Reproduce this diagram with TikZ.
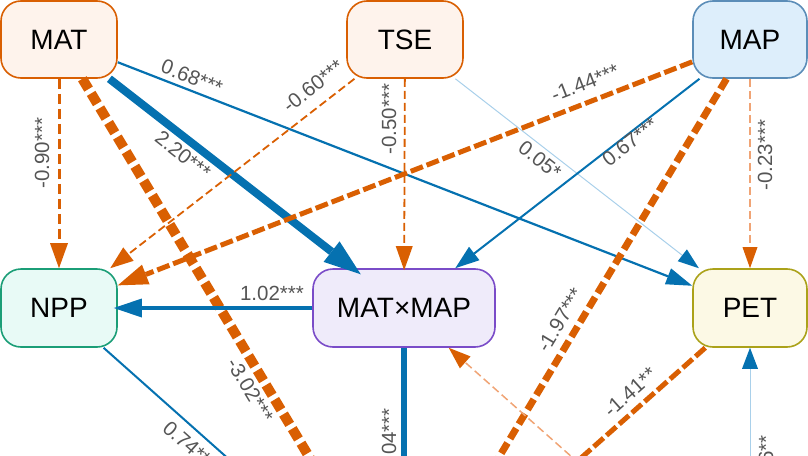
\documentclass[tikz,border=0pt]{standalone}
\usepackage{fontspec}
\setmainfont{Liberation Sans}
\usetikzlibrary{arrows.meta}
\definecolor{dorange}{HTML}{D95F02}
\definecolor{lorange}{HTML}{F0A475}
\definecolor{dblue}{HTML}{0571B0}
\definecolor{lblue}{HTML}{A9D0EA}
\definecolor{lbltext}{HTML}{555555}
\definecolor{matfill}{HTML}{FEF3EC}
\definecolor{mapfill}{HTML}{DDEEFB}
\definecolor{mapborder}{HTML}{5B8DB8}
\definecolor{nppfill}{HTML}{E8FAF6}
\definecolor{nppborder}{HTML}{1B9E77}
\definecolor{mmfill}{HTML}{EFEBFA}
\definecolor{mmborder}{HTML}{7A4CC8}
\definecolor{petfill}{HTML}{FCF9E5}
\definecolor{petborder}{HTML}{ABA21A}
\begin{document}
\begin{tikzpicture}[x=1pt,y=-1pt,
  box/.style={draw, line width=1.6pt, rounded corners=20pt, minimum height=77pt, inner sep=0pt, font=\fontsize{28}{30}\selectfont, text=black},
  lbl/.style={font=\fontsize{20.5}{22}\selectfont, text=lbltext, inner sep=0pt},
  dsh/.style={dash pattern=on 8pt off 4pt},
  dshm/.style={dash pattern=on 10pt off 5pt},
  dshk/.style={dash pattern=on 12pt off 5pt},
  tip/.style 2 args={-{Triangle[length=#1,width=#2,line width=0pt]}},
]
\useasboundingbox (0,0) rectangle (808,455);
\clip (0,0) rectangle (808,455);
% nodes
\node[box, fill=matfill, draw=dorange, minimum width=116pt] (MAT) at (59,39.5) {MAT};
\node[box, fill=matfill, draw=dorange, minimum width=116pt] (TSE) at (405,39.5) {TSE};
\node[box, fill=mapfill, draw=mapborder, minimum width=114pt] (MAP) at (750,39.5) {MAP};
\node[box, fill=nppfill, draw=nppborder, minimum width=116pt, minimum height=78pt] (NPP) at (59,308) {NPP};
\node[box, fill=mmfill, draw=mmborder, minimum width=182pt, minimum height=78pt] (MM) at (404,308) {MAT×MAP};
\node[box, fill=petfill, draw=petborder, minimum width=114pt, minimum height=78pt] (PET) at (750,308) {PET};
\coordinate (BC) at (404,615);
\coordinate (BR) at (750,615);
% edges
\draw[dorange, line width=3pt, dshm, tip={25pt}{18pt}] (MAT) -- (NPP);
\draw[dblue, line width=8pt, tip={37pt}{26pt}, shorten >=-10pt] (MAT) -- (MM);
\draw[dblue, line width=2.2pt, tip={26pt}{17pt}] (MAT) -- (PET);
\draw[dorange, line width=10pt, dshk] (MAT) -- (BC);
\draw[dorange, line width=1.8pt, dsh, tip={23pt}{17pt}] (TSE) -- (NPP);
\draw[dorange, line width=1.8pt, dsh, tip={24pt}{17pt}, shorten >=-2pt] (TSE) -- (MM);
\draw[lblue, line width=1pt, -{Triangle[length=21pt,width=15pt,line width=0pt,color=dblue]}] (TSE) -- (PET);
\draw[dorange, line width=5pt, dash pattern=on 13pt off 4pt, tip={30pt}{21pt}] (MAP) -- (NPP);
\draw[dblue, line width=2pt, tip={24pt}{17pt}] (MAP) -- (MM);
\draw[dorange, line width=7pt, dshk] (MAP) -- (BC);
\draw[lorange, line width=1.5pt, dsh, -{Triangle[length=21pt,width=15pt,line width=0pt,color=dorange]}] (MAP) -- (PET);
\draw[dblue, line width=4pt, tip={28pt}{19pt}, shorten >=-4pt] (MM) -- (NPP);
\draw[dblue, line width=6pt] (MM) -- (BC);
\draw[dblue, line width=2pt] (NPP) -- (BC);
\draw[dorange, line width=5pt, dash pattern=on 13pt off 4pt] (PET) -- (BC);
\draw[lorange, line width=1.5pt, dsh, -{Triangle[length=22pt,width=16pt,line width=0pt,color=dorange]}] (BR) -- (MM);
\draw[lblue, line width=1pt, -{Triangle[length=21pt,width=16pt,line width=0pt,color=dblue]}] (BR) -- (PET);
% labels
\node[lbl, rotate=90] (l1) at (42,153) {-0.90***};
\node[lbl, rotate=-38] (l2) at (183,155) {2.20***};
\node[lbl, rotate=-21.3] (l3) at (192,77) {0.68***};
\node[lbl, rotate=-59] (l4) at (250,390) {-3.02***};
\node[lbl, rotate=38] (l5) at (313,86) {-0.60***};
\node[lbl, rotate=90] (l6) at (389,119) {-0.50***};
\node[lbl, rotate=-38] (l7) at (540,160) {0.05*};
\node[lbl, rotate=21.3] (l8) at (585,83) {-1.44***};
\node[lbl, rotate=38] (l9) at (630,142) {0.67***};
\node[lbl, rotate=59] (l10) at (560,320) {-1.97***};
\node[lbl, rotate=90] (l11) at (765,155) {-0.23***};
\node[lbl] (l12) at (272,293) {1.02***};
\node[lbl, rotate=-41.7] (l13) at (190,446) {0.74***};
\node[lbl, rotate=90] (l14) at (389,440) {1.04***};
\node[lbl, rotate=90] (l15) at (766,463) {0.16**};
\node[lbl, rotate=41.6] (l16) at (630,392) {-1.41**};
\end{tikzpicture}
\end{document}
